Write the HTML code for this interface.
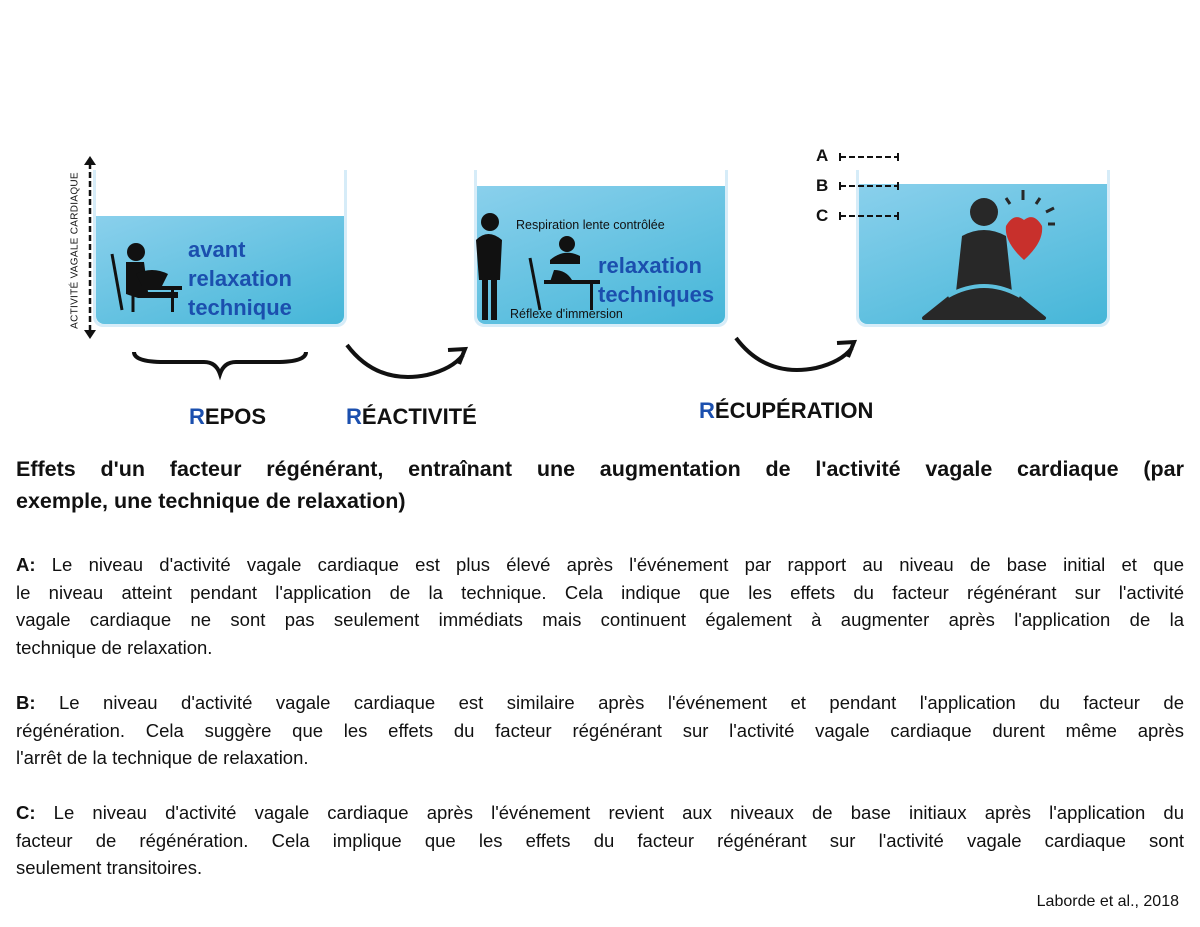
<!DOCTYPE html>
<html><head><meta charset="utf-8">
<style>
body{margin:0;width:1200px;height:927px;background:#fff;position:relative;overflow:hidden;font-family:"Liberation Sans",sans-serif;color:#111}
.abs{position:absolute}
.tank{position:absolute;border:3px solid #d6ecf8;border-top:none;border-radius:0 0 10px 10px;background:#fff}
.water{position:absolute;left:0;right:0;bottom:0;background:linear-gradient(160deg,#8ad0ec,#45b6d8);border-radius:0 0 8px 8px}
.lbl{position:absolute;color:#1b4fae;font-weight:bold;font-size:22px;line-height:29px}
.ph{position:absolute;font-weight:bold;font-size:22px}
.ph b{color:#1b4fae}
.j{position:absolute;left:16px;width:1168px;font-size:18.5px;line-height:27.7px}
.j div{text-align:justify;text-align-last:justify;white-space:nowrap;overflow:visible}
.j div.l{text-align-last:left}
.t{font-size:21.5px;font-weight:bold;line-height:32px}
</style></head><body>

<svg class="abs" style="left:80px;top:155px" width="20" height="185">
<line x1="10" y1="8" x2="10" y2="177" stroke="#111" stroke-width="2.5" stroke-dasharray="6,3"/>
<polygon points="4,10 10,1 16,10" fill="#111"/><polygon points="4,175 10,184 16,175" fill="#111"/>
</svg>
<div class="abs" style="left:-5px;top:245px;width:160px;transform:rotate(-90deg);font-size:10px;letter-spacing:.3px;text-align:center;transform-origin:center">ACTIVITÉ VAGALE CARDIAQUE</div>

<div class="tank" style="left:93px;top:170px;width:248px;height:154px"><div class="water" style="top:46px"></div></div>
<svg class="abs" style="left:108px;top:240px" width="80" height="75">
<circle cx="28" cy="12" r="9" fill="#111"/><path d="M18 22 h18 l4 30 h30 v6 h-40 l-12 -4z" fill="#111"/>
<path d="M28 34 q16 -8 32 0 l-6 12 h-20z" fill="#111"/>
<rect x="22" y="46" width="52" height="4" fill="#111"/><rect x="63" y="46" width="3" height="26" fill="#111"/>
<line x1="4" y1="14" x2="14" y2="70" stroke="#111" stroke-width="3"/><line x1="25" y1="55" x2="25" y2="72" stroke="#111" stroke-width="3"/>
</svg>
<div class="lbl" style="left:188px;top:235px">avant<br>relaxation<br>technique</div>

<div class="tank" style="left:474px;top:170px;width:248px;height:154px"><div class="water" style="top:16px"></div></div>
<svg class="abs" style="left:472px;top:210px" width="130" height="110">
<circle cx="18" cy="12" r="9" fill="#111"/><path d="M4 30 q12 -12 26 0 l-2 40 h-3 v40 h-6 v-40 h-3 v40 h-6 v-40 h-3z" fill="#111"/>
<path d="M78 50 q14 -12 30 -4 l0 8 h-30z" fill="#111"/><circle cx="95" cy="34" r="8" fill="#111"/>
<path d="M82 60 q12 0 18 10 v2 h-22z" fill="#111"/>
<rect x="72" y="70" width="56" height="4" fill="#111"/><rect x="118" y="72" width="3" height="28" fill="#111"/>
<line x1="58" y1="48" x2="68" y2="100" stroke="#111" stroke-width="3"/>
</svg>
<div class="abs" style="left:516px;top:218px;font-size:12.5px">Respiration lente contrôlée</div>
<div class="abs" style="left:510px;top:307px;font-size:12.5px">Réflexe d'immersion</div>
<div class="lbl" style="left:598px;top:251px">relaxation<br>techniques</div>

<div class="tank" style="left:856px;top:170px;width:248px;height:154px"><div class="water" style="top:14px"></div></div>
<svg class="abs" style="left:918px;top:188px" width="150" height="136">
<circle cx="66" cy="24" r="14" fill="#282828"/>
<path d="M44 48 q22 -12 44 0 l6 56 h-56z" fill="#282828"/>
<path d="M36 106 h60 l30 24 h-120z" fill="#282828" stroke="#282828" stroke-width="4" stroke-linejoin="round"/>
<path d="M30 108 q36 -20 72 0" stroke="#5ec0de" stroke-width="4" fill="none"/>
<path d="M88 38 q8 -14 18 -6 q10 -8 18 6 q2 16 -18 34 q-20 -18 -18 -34z" fill="#c8302c"/>
<g stroke="#282828" stroke-width="3"><line x1="105" y1="12" x2="105" y2="2"/><line x1="92" y1="16" x2="88" y2="10"/><line x1="118" y1="16" x2="122" y2="10"/><line x1="128" y1="24" x2="136" y2="20"/><line x1="130" y1="36" x2="137" y2="36"/></g>
</svg>
<div class="abs" style="left:816px;top:141px;font-weight:bold;font-size:17px;line-height:30px">A<br>B<br>C</div>
<svg class="abs" style="left:838px;top:150px" width="64" height="70">
<g stroke="#111" stroke-width="2" stroke-dasharray="6,3"><line x1="2" y1="7" x2="60" y2="7"/><line x1="2" y1="36" x2="60" y2="36"/><line x1="2" y1="66" x2="60" y2="66"/></g>
<g stroke="#111" stroke-width="2"><line x1="2" y1="3" x2="2" y2="11"/><line x1="60" y1="3" x2="60" y2="11"/><line x1="2" y1="32" x2="2" y2="40"/><line x1="60" y1="32" x2="60" y2="40"/><line x1="2" y1="62" x2="2" y2="70"/><line x1="60" y1="62" x2="60" y2="70"/></g>
</svg>

<svg class="abs" style="left:0;top:330px" width="900" height="60">
<path d="M134 22 q0 10 30 10 h40 q12 0 16 12 q4 -12 16 -12 h40 q30 0 30 -10" stroke="#111" stroke-width="4" fill="none"/>
<path d="M347 15 q30 40 80 30 q25 -6 36 -20" stroke="#111" stroke-width="4" fill="none"/>
<path d="M448 20 l17 -1 l-6 15" stroke="#111" stroke-width="4" fill="none"/>
<path d="M736 8 q30 40 80 30 q25 -6 36 -20" stroke="#111" stroke-width="4" fill="none"/>
<path d="M837 13 l17 -1 l-6 15" stroke="#111" stroke-width="4" fill="none"/>
</svg>
<div class="ph" style="left:189px;top:404px"><b>R</b>EPOS</div>
<div class="ph" style="left:346px;top:404px"><b>R</b>ÉACTIVITÉ</div>
<div class="ph" style="left:699px;top:398px"><b>R</b>ÉCUPÉRATION</div>

<div class="j t" style="top:453px">
<div>Effets d'un facteur régénérant, entraînant une augmentation de l'activité vagale cardiaque (par</div>
<div class="l">exemple, une technique de relaxation)</div>
</div>

<div class="j" style="top:551px">
<div><b>A:</b> Le niveau d'activité vagale cardiaque est plus élevé après l'événement par rapport au niveau de base initial et que</div>
<div>le niveau atteint pendant l'application de la technique. Cela indique que les effets du facteur régénérant sur l'activité</div>
<div>vagale cardiaque ne sont pas seulement immédiats mais continuent également à augmenter après l'application de la</div>
<div class="l">technique de relaxation.</div>
</div>

<div class="j" style="top:689px">
<div><b>B:</b> Le niveau d'activité vagale cardiaque est similaire après l'événement et pendant l'application du facteur de</div>
<div>régénération. Cela suggère que les effets du facteur régénérant sur l'activité vagale cardiaque durent même après</div>
<div class="l">l'arrêt de la technique de relaxation.</div>
</div>

<div class="j" style="top:799px">
<div><b>C:</b> Le niveau d'activité vagale cardiaque après l'événement revient aux niveaux de base initiaux après l'application du</div>
<div>facteur de régénération. Cela implique que les effets du facteur régénérant sur l'activité vagale cardiaque sont</div>
<div class="l">seulement transitoires.</div>
</div>

<div class="abs" style="right:21px;top:893px;font-size:16px">Laborde et al., 2018</div>
</body></html>
